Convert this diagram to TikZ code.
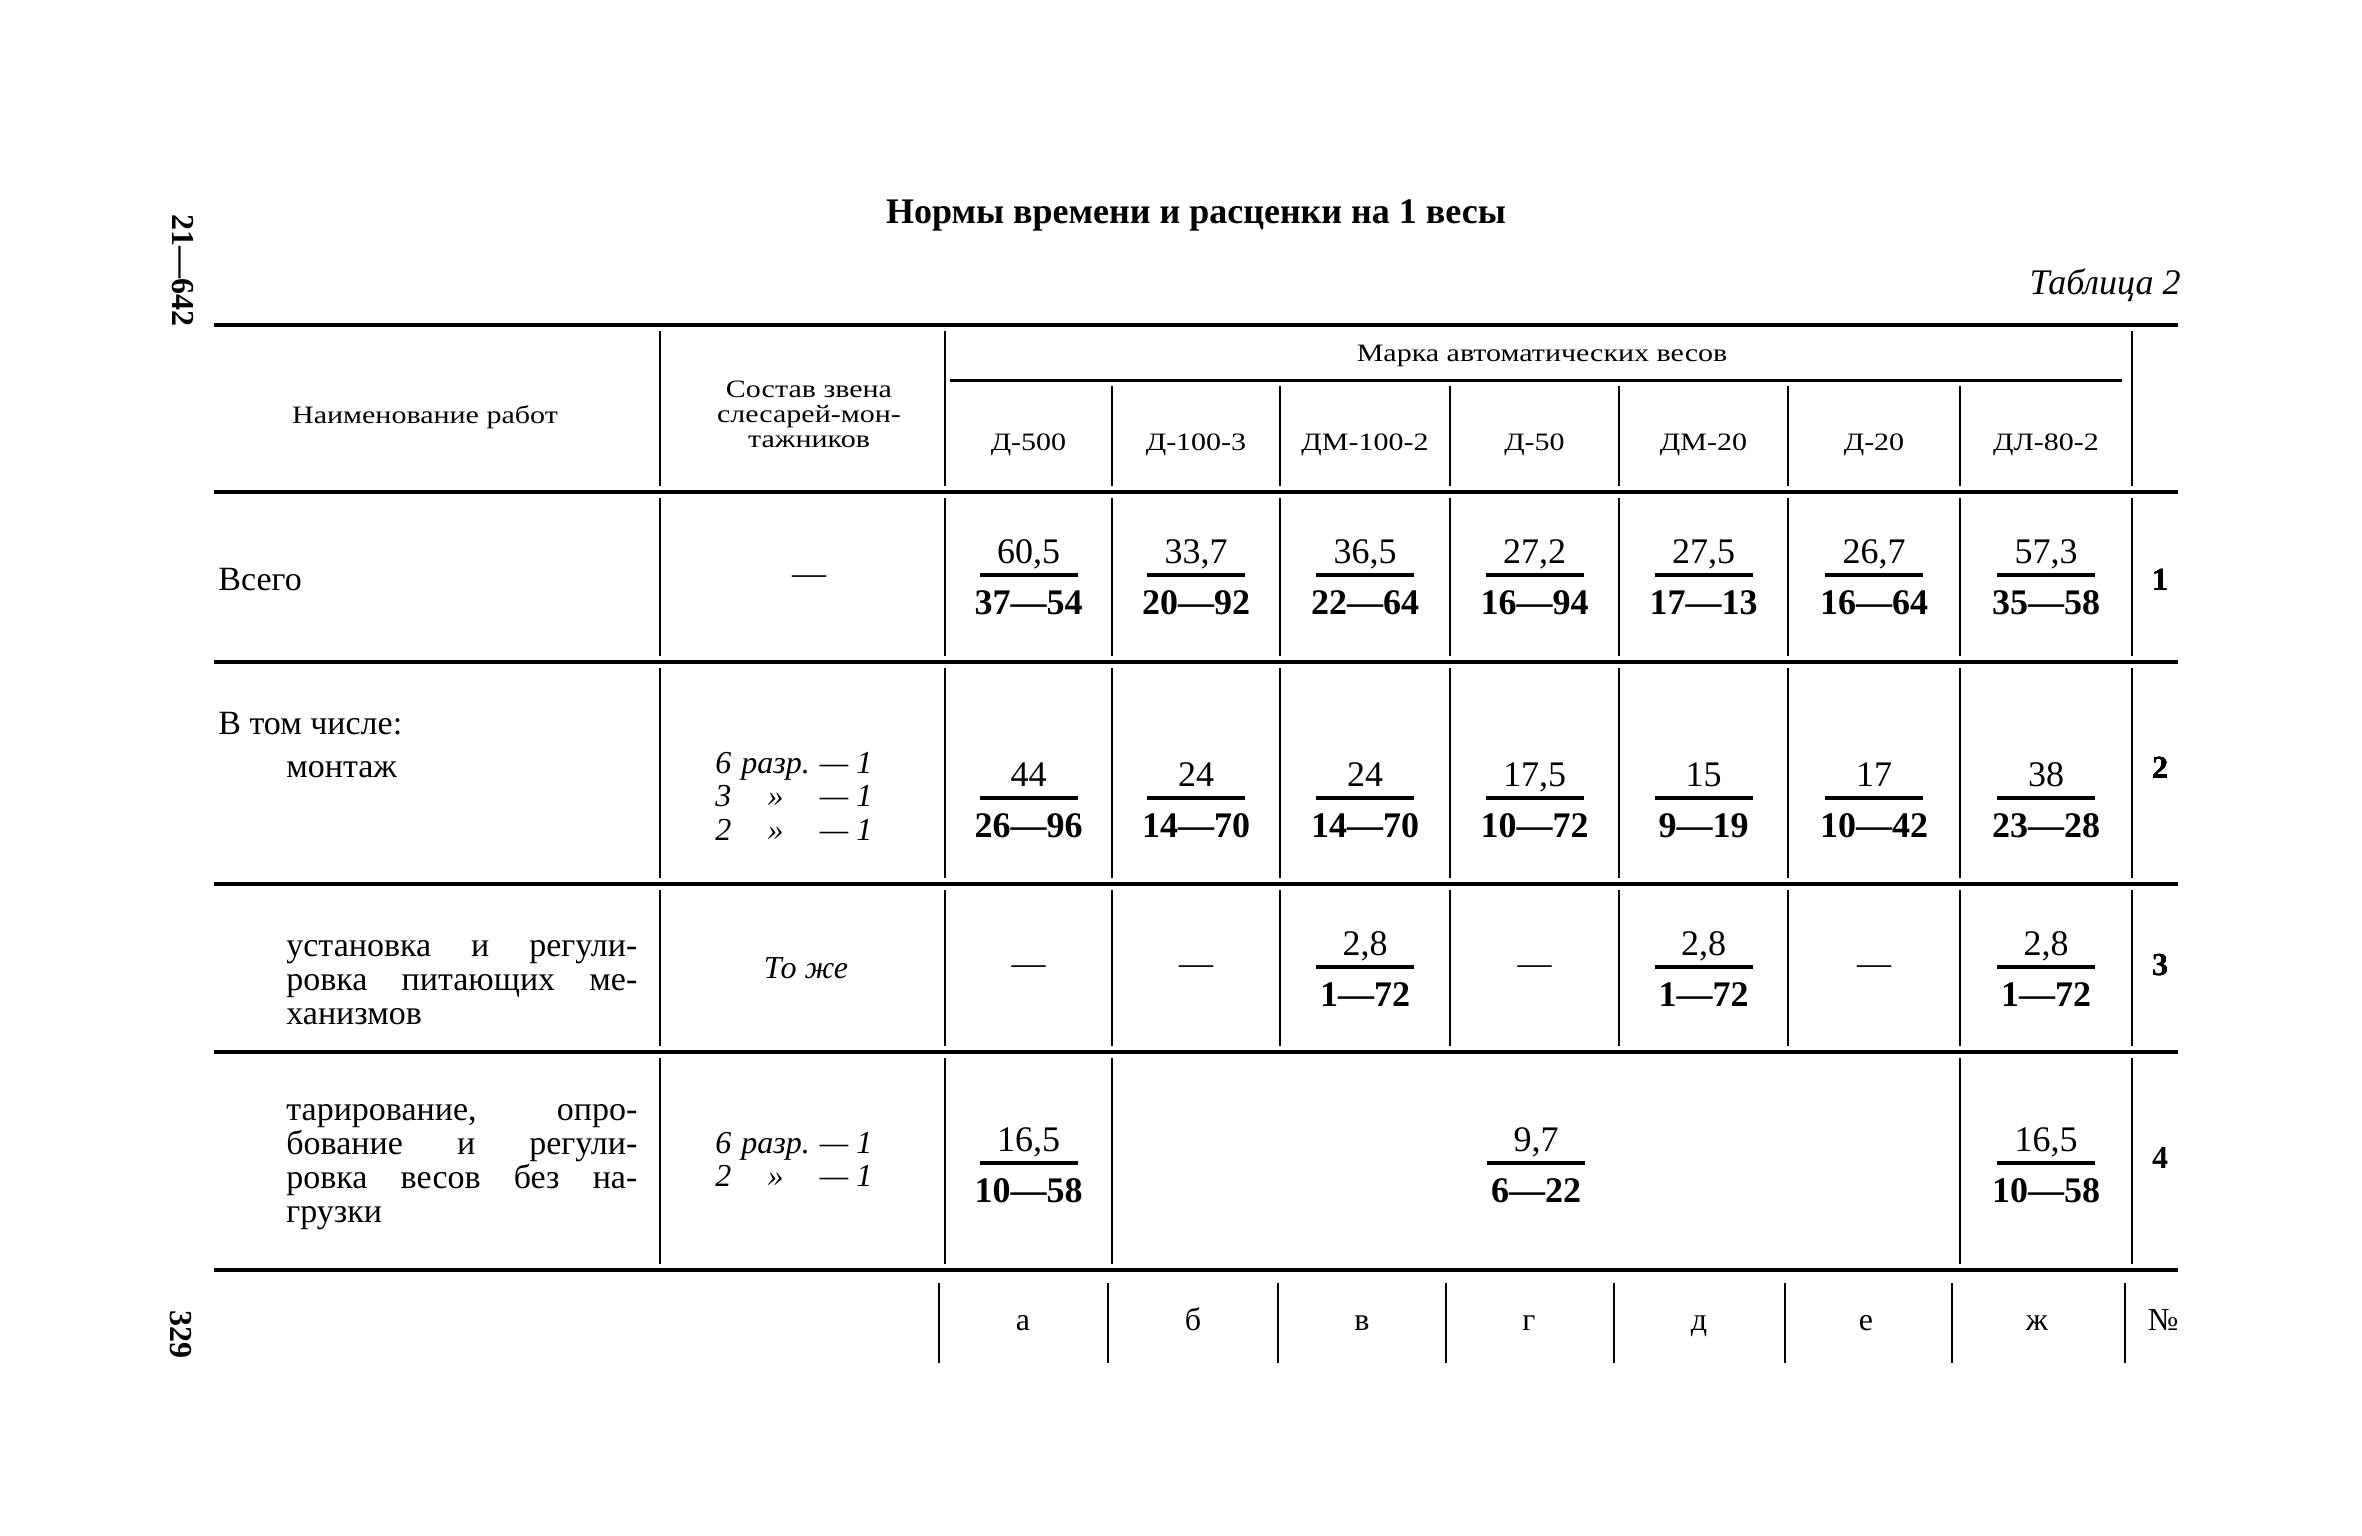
\documentclass[tikz,border=0pt]{standalone}
\usepackage{fontspec}
\setmainfont{Liberation Serif}
\newfontfamily\hdrfont[FakeStretch=1.2]{Liberation Serif}
\usetikzlibrary{positioning}

% one fraction cell: name, x, y of bar, upper, lower
\newcommand\normcell[5]{%
  \node[upper] (#1-u) at (#2,#3-12) {#4};
  \node[lower] (#1-l) at (#2,#3+39) {#5};
  \draw[bar] (#2-49,#3) -- (#2+49,#3);
}

\begin{document}
\begin{tikzpicture}[x=0.5pt, y=-0.5pt,
    rule/.style={line width=2.3pt},
    subrule/.style={line width=1.5pt},
    vline/.style={line width=0.9pt},
    bar/.style={line width=1.6pt},
    txt/.style={inner sep=0pt, anchor=base, font=\fontsize{17}{20}\selectfont},
    hdr/.style={inner sep=0pt, anchor=base, font=\hdrfont\fontsize{12.5}{12.5}\selectfont},
    upper/.style={inner sep=0pt, anchor=base, font=\fontsize{18}{20}\selectfont},
    lower/.style={upper, font=\bfseries\fontsize{18}{20}\selectfont},
    ital/.style={inner sep=0pt, anchor=base, font=\itshape\fontsize{16}{13.5}\selectfont},
    rownum/.style={txt, font=\bfseries\fontsize{16}{20}\selectfont},
    side/.style={inner sep=0pt, rotate=-90, font=\bfseries\fontsize{16}{20}\selectfont}
]
    \useasboundingbox (0,0) rectangle (2362,1536);

    % titles and margin marks
    \node[txt, font=\bfseries\fontsize{18}{20}\selectfont] (title) at (1196,223) {Нормы времени и расценки на 1 весы};
    \node[txt, anchor=base east, font=\itshape\fontsize{18}{20}\selectfont] (tabno) at (2181,294) {Таблица 2};
    \node[side] (sig) at (183,270) {21—642};
    \node[side] (page) at (181,1334) {329};

    % horizontal rules
    \foreach \y in {325,492,662,884,1052,1270}
        \draw[rule] (214,\y) -- (2178,\y);
    \draw[subrule] (950,380) -- (2122,380);

    % vertical rules
    \foreach \x in {660,945,2132}
        \draw[vline] (\x,331) -- (\x,486);
    \foreach \x in {1112,1280,1450,1619,1788,1960}
        \draw[vline] (\x,386) -- (\x,486);
    \foreach \ya/\yb in {492/662,662/884,884/1052}
        \foreach \x in {660,945,1112,1280,1450,1619,1788,1960,2132}
            \draw[vline] (\x,\ya+6) -- (\x,\yb-6);
    \foreach \x in {660,945,1112,1960,2132}
        \draw[vline] (\x,1058) -- (\x,1264);
    \foreach \x in {939,1108,1278,1446,1614,1785,1952,2125}
        \draw[vline] (\x,1283) -- (\x,1363);

    % header
    \node[hdr] (hname) at (425,423) {Наименование работ};
    \node[hdr, anchor=center, align=center] (hcrew) at (809,414)
        {Состав звена\\слесарей-мон-\\тажников};
    \node[hdr] (hbrand) at (1542,361) {Марка автоматических весов};
    \foreach \x/\t [count=\i] in {1028.5/Д-500, 1196/Д-100-3, 1365/ДМ-100-2,
            1534.5/Д-50, 1703.5/ДМ-20, 1874/Д-20, 2046/ДЛ-80-2}
        \node[hdr] (brand\i) at (\x,450) {\t};

    % row 1
    \node[txt, anchor=base west] (r1name) at (218,590) {Всего};
    \node[txt, anchor=center] (r1crew) at (809,580) {—};
    \foreach \x/\u/\l [count=\i] in {1028.5/{60,5}/37—54, 1196/{33,7}/20—92,
            1365/{36,5}/22—64, 1534.5/{27,2}/16—94, 1703.5/{27,5}/17—13,
            1874/{26,7}/16—64, 2046/{57,3}/35—58}
        \normcell{r1c\i}{\x}{575}{\u}{\l}
    \node[rownum] (n1) at (2160,590) {1};

    % row 2
    \node[txt, anchor=base west] (r2name) at (218,734) {В том числе:};
    \node[txt, anchor=base west] (r2sub) at (286,777) {монтаж};
    \node[ital, anchor=base west] (r2crew) at (715,773)
        {\begin{tabular}[t]{@{}l@{\hspace{5pt}}c@{\hspace{5pt}}l@{}}
         6 & разр. & — 1\\[2.2pt] 3 & » & — 1\\[2.2pt] 2 & » & — 1\end{tabular}};
    \foreach \x/\u/\l [count=\i] in {1028.5/44/26—96, 1196/24/14—70,
            1365/24/14—70, 1534.5/{17,5}/10—72, 1703.5/15/9—19,
            1874/17/10—42, 2046/38/23—28}
        \normcell{r2c\i}{\x}{798}{\u}{\l}
    \node[rownum] (n2) at (2160,778) {2};

    % row 3
    \node[txt, anchor=base west] (r3a) at (286,956) {\makebox[175.5pt][s]{установка и регули-}};
    \node[txt, anchor=base west] (r3b) at (286,990) {\makebox[175.5pt][s]{ровка питающих ме-}};
    \node[txt, anchor=base west] (r3c) at (286,1024) {ханизмов};
    \node[ital] (r3crew) at (806,978) {То же};
    \foreach \x [count=\i] in {1028.5,1196,1534.5,1874}
        \node[txt, anchor=center] (r3d\i) at (\x,970) {—};
    \foreach \x [count=\i] in {1365,1703.5,2046}
        \normcell{r3c\i}{\x}{967}{2,8}{1—72}
    \node[rownum] (n3) at (2160,975) {3};

    % row 4
    \node[txt, anchor=base west] (r4a) at (286,1120) {\makebox[175.5pt][s]{тарирование, опро-}};
    \node[txt, anchor=base west] (r4b) at (286,1154) {\makebox[175.5pt][s]{бование и регули-}};
    \node[txt, anchor=base west] (r4c) at (286,1188) {\makebox[175.5pt][s]{ровка весов без на-}};
    \node[txt, anchor=base west] (r4d) at (286,1222) {грузки};
    \node[ital, anchor=base west] (r4crew) at (715,1153)
        {\begin{tabular}[t]{@{}l@{\hspace{5pt}}c@{\hspace{5pt}}l@{}}
         6 & разр. & — 1\\[2.2pt] 2 & » & — 1\end{tabular}};
    \normcell{r4c1}{1028.5}{1163}{16,5}{10—58}
    \normcell{r4c2}{1536}{1163}{9,7}{6—22}
    \normcell{r4c3}{2046}{1163}{16,5}{10—58}
    \node[rownum] (n4) at (2160,1168) {4};

    % column letters
    \foreach \x/\t [count=\i] in {1023/а, 1193/б, 1362/в, 1529/г, 1699/д,
            1866/е, 2037/ж, 2163/№}
        \node[txt, font=\fontsize{16}{20}\selectfont] (let\i) at (\x,1330) {\t};
\end{tikzpicture}
\end{document}
